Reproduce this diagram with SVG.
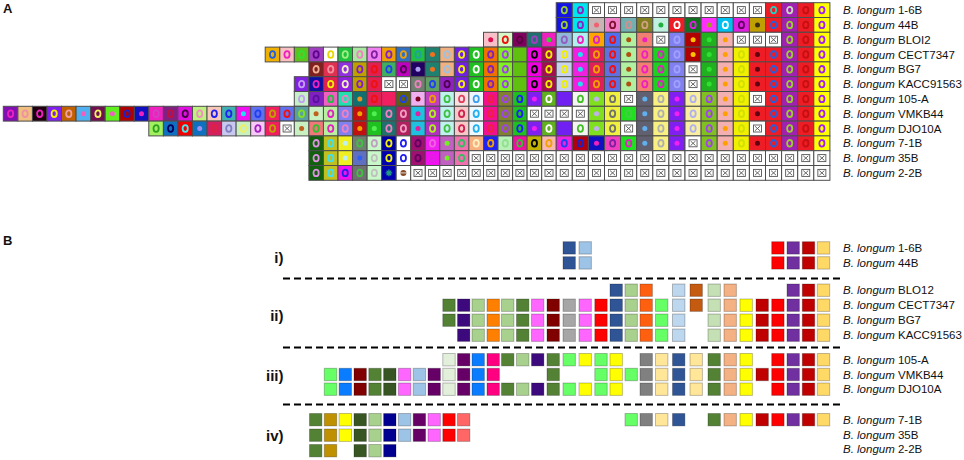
<svg xmlns="http://www.w3.org/2000/svg" width="964" height="460" viewBox="0 0 964 460">
<style>
rect.l{width:14.6px;height:14.8px;stroke:#4d4d4d;stroke-width:1px}
rect.r{width:16.1px;height:14.8px;stroke:#4d4d4d;stroke-width:1px}
rect.b{width:12.4px;height:12.4px;stroke:#000;stroke-opacity:.25;stroke-width:1px}
text{font-family:"Liberation Sans",Arial,Helvetica,sans-serif;fill:#111}
.lab{font-size:11.5px}
.it{font-style:italic}
.pl{font-size:13px;font-weight:bold}
.sl{font-size:15px;font-weight:bold;text-anchor:end}
.sep{stroke:#000;stroke-width:2;stroke-dasharray:7 4;fill:none}
</style>
<defs>
<ellipse id="o" cy="7.4" rx="2.6" ry="3.3" fill="none" stroke-width="1.8"/>
<circle id="d" cy="7.4" r="2.5"/>
<g id="xm"><rect x="-4" y="3.9" width="8" height="7" fill="#fff" stroke="#555" stroke-width=".9"/><path d="M-2.5 5.1L2.5 9.7M-2.5 9.7L2.5 5.1" stroke="#555" stroke-width=".9"/></g>
<g id="xl"><rect class="l" fill="#fff"/><use href="#xm" x="7.3"/></g>
<g id="xr"><rect class="r" fill="#fff"/><use href="#xm" x="8.05"/></g>
<g id="E"><rect class="r" x="765.5" fill="#ee1c24"/><use href="#o" x="773.6" stroke="#2060e0"/><rect class="r" x="781.6" fill="#a020b0"/><use href="#o" x="789.7" stroke="#9acd32"/><rect class="r" x="797.7" fill="#ee1c24"/><use href="#o" x="805.8" stroke="#c41010"/><rect class="r" x="813.8" fill="#ffff00"/><use href="#o" x="821.9" stroke="#a020f0"/></g>
<g id="Q1">
<rect class="l" x="454.4" fill="#7020e0"/><use href="#o" x="461.6" stroke="#f0f000"/>
<rect class="l" x="468.9" fill="#20c020"/><use href="#o" x="476.2" stroke="#ffffff"/>
<rect class="l" x="483.5" fill="#f07000"/><use href="#o" x="490.7" stroke="#8020c0"/>
<rect class="l" x="498" fill="#80f020"/><use href="#o" x="505.3" stroke="#a040f0"/>
<rect class="l" x="512.6" fill="#60c010"/>
<rect class="l" x="527.1" fill="#f000e0"/><use href="#o" x="534.4" stroke="#000"/>
<rect class="l" x="541.7" fill="#a01050"/><use href="#o" x="548.9" stroke="#f0f000"/>
<rect class="r" x="556.2" fill="#c8d0f0"/><use href="#o" x="564.3" stroke="#f0f000"/>
<rect class="r" x="572.3" fill="#f020e0"/><use href="#d" x="580.4" fill="#20e0f0"/>
<rect class="r" x="588.4" fill="#e0205a"/><use href="#o" x="596.5" stroke="#f0a000"/>
<rect class="r" x="604.5" fill="#6070e0"/><use href="#o" x="612.6" stroke="#f01010"/>
<rect class="r" x="620.6" fill="#b0f0a0"/><use href="#d" x="628.7" fill="#b05010"/>
<rect class="r" x="636.7" fill="#f08070"/><use href="#o" x="644.8" stroke="#f020c0"/>
<rect class="r" x="652.8" fill="#20d020"/><use href="#o" x="660.9" stroke="#e020c0"/>
<rect class="r" x="668.9" fill="#8080f0"/><use href="#o" x="677" stroke="#a0a0ff"/>
</g>
<g id="Q2">
<rect class="r" x="701.1" fill="#20b020"/><use href="#d" x="709.2" fill="#30e030"/>
<rect class="r" x="717.2" fill="#f4b0b0"/><use href="#d" x="725.3" fill="#ffa000"/>
<rect class="r" x="733.3" fill="#f0f000"/><use href="#o" x="741.4" stroke="#d0e000"/>
<rect class="r" x="749.4" fill="#ee1c24"/><use href="#d" x="757.5" fill="#600010"/>
</g>
<g id="P1"><rect class="r" x="588.4" fill="#80e020"/><use href="#d" x="596.5" fill="#c0b0f0"/><rect class="r" x="604.5" fill="#f0f040"/><use href="#o" x="612.6" stroke="#707070"/></g>
<g id="P2"><rect class="r" x="636.7" fill="#606070"/><use href="#d" x="644.8" fill="#60b0f0"/><rect class="r" x="652.8" fill="#f8f080"/><use href="#o" x="660.9" stroke="#b0b0b0"/><rect class="r" x="668.9" fill="#8020f0"/><use href="#d" x="677" fill="#f020f0"/></g>
<g id="P3"><rect class="r" x="701.1" fill="#80c020"/><use href="#o" x="709.2" stroke="#a040f0"/><rect class="r" x="717.2" fill="#f4b0b0"/><use href="#d" x="725.3" fill="#ffa000"/><rect class="r" x="733.3" fill="#f0f000"/><use href="#o" x="741.4" stroke="#d0e000"/></g>
<g id="P4"><rect class="l" x="527.1" fill="#8020f0"/><use href="#d" x="534.4" fill="#f020f0"/><rect class="l" x="541.7" fill="#60b020"/><use href="#o" x="548.9" stroke="#fff"/><rect class="r" x="556.2" fill="#7020f0"/><rect class="r" x="572.3" fill="#f4f4f4"/><use href="#o" x="580.4" stroke="#40c020"/></g>
<g id="V">
<rect class="l" x="323.4" fill="#b8f0a0"/><use href="#o" x="330.7" stroke="#e020c0"/>
<rect class="l" x="338" fill="#8080f0"/><use href="#o" x="345.2" stroke="#f080c0"/>
<rect class="l" x="352.5" fill="#c01010"/><use href="#d" x="359.8" fill="#f0a000"/>
<rect class="l" x="367.1" fill="#20c020"/><use href="#d" x="374.3" fill="#50f050"/>
<rect class="l" x="381.6" fill="#207070"/><use href="#o" x="388.9" stroke="#f080c0"/>
<rect class="l" x="396.2" fill="#b02060"/><use href="#o" x="403.4" stroke="#f0a0c0"/>
<rect class="l" x="410.7" fill="#20c0e0"/><use href="#d" x="418" fill="#e020a0"/>
<rect class="l" x="425.3" fill="#b030c0"/><use href="#o" x="432.5" stroke="#b0f020"/>
<rect class="l" x="439.8" fill="#c0f0f0"/><use href="#o" x="447.1" stroke="#40c040"/>
<rect class="l" x="454.4" fill="#f8c8c8"/><use href="#o" x="461.6" stroke="#d02050"/>
<rect class="l" x="468.9" fill="#f0f8ff"/><use href="#o" x="476.2" stroke="#20b0f0"/>
<rect class="l" x="483.5" fill="#f01090"/><use href="#o" x="490.7" stroke="#f02040"/>
<rect class="l" x="498" fill="#808030"/><use href="#o" x="505.3" stroke="#a040f0"/>
<rect class="l" x="512.6" fill="#20c020"/><use href="#o" x="519.8" stroke="#2020f0"/>
</g>
<g id="T3"><rect class="l" x="308.9" fill="#106010"/><use href="#o" x="316.1" stroke="#e090e0"/><rect class="l" x="323.4" fill="#c0c020"/><use href="#o" x="330.7" stroke="#40e0f0"/></g>
<g id="XL"><use href="#xl" x="468.9"/><use href="#xl" x="483.5"/><use href="#xl" x="498"/><use href="#xl" x="512.6"/><use href="#xl" x="527.1"/><use href="#xl" x="541.7"/></g>
<g id="XR"><use href="#xr" x="556.2"/><use href="#xr" x="572.3"/><use href="#xr" x="588.4"/><use href="#xr" x="604.5"/><use href="#xr" x="620.6"/><use href="#xr" x="636.7"/><use href="#xr" x="652.8"/><use href="#xr" x="668.9"/><use href="#xr" x="685"/><use href="#xr" x="701.1"/><use href="#xr" x="717.2"/><use href="#xr" x="733.3"/><use href="#xr" x="749.4"/><use href="#xr" x="765.5"/><use href="#xr" x="781.6"/><use href="#xr" x="797.7"/><use href="#xr" x="813.8"/></g>
<g id="Bend"><rect class="b" x="771.7" fill="#ff0000"/><rect class="b" x="787" fill="#7030a0"/><rect class="b" x="802.3" fill="#c00000"/><rect class="b" x="817.3" fill="#ffd966"/></g>
<g id="Bii"><rect class="b" x="457.5" fill="#3c0a7c"/><rect class="b" x="472" fill="#a9d18e"/><rect class="b" x="487" fill="#ff8000"/><rect class="b" x="501.5" fill="#a9d18e"/><rect class="b" x="516.5" fill="#548235"/><rect class="b" x="531.5" fill="#ff66ff"/><rect class="b" x="547" fill="#800000"/><rect class="b" x="563" fill="#a6a6a6"/><rect class="b" x="579" fill="#ff66ff"/><rect class="b" x="594.8" fill="#ff0000"/><rect class="b" x="610" fill="#2f5597"/><rect class="b" x="625" fill="#a9d18e"/><rect class="b" x="640" fill="#ff6010"/><rect class="b" x="655.5" fill="#66ff66"/><rect class="b" x="672.5" fill="#bdd7ee"/><rect class="b" x="708" fill="#c5e0b4"/><rect class="b" x="724" fill="#f4b183"/><rect class="b" x="740" fill="#ffff00"/><rect class="b" x="756" fill="#c00000"/><use href="#Bend"/></g>
<g id="L18"><rect class="b" x="324.3" fill="#66ff66"/><rect class="b" x="339.1" fill="#0a7cff"/><rect class="b" x="354" fill="#800000"/><rect class="b" x="368.8" fill="#548235"/><rect class="b" x="383.6" fill="#375623"/><rect class="b" x="398.4" fill="#ff66ff"/><rect class="b" x="413.2" fill="#9dc3e6"/><rect class="b" x="428" fill="#660066"/></g>
<g id="M"><rect class="b" x="442.8" fill="#e2efda"/><rect class="b" x="457.5" fill="#660066"/><rect class="b" x="472" fill="#0a7cff"/><rect class="b" x="487" fill="#ff0080"/></g>
<g id="N"><rect class="b" x="501.5" fill="#548235"/><rect class="b" x="516.5" fill="#a9d18e"/><rect class="b" x="531.5" fill="#3c0a7c"/><rect class="b" x="547" fill="#548235"/><rect class="b" x="563" fill="#66ff66"/><rect class="b" x="579" fill="#ffff00"/><rect class="b" x="594.8" fill="#66ff66"/><rect class="b" x="610" fill="#ffff00"/></g>
<g id="R"><rect class="b" x="640" fill="#808080"/><rect class="b" x="655.5" fill="#ffe699"/><rect class="b" x="672.5" fill="#2f5597"/><rect class="b" x="690" fill="#ffe699"/><rect class="b" x="708" fill="#548235"/><rect class="b" x="724" fill="#f4b183"/><rect class="b" x="740" fill="#ffff00"/></g>
<g id="IV"><rect class="b" x="309.5" fill="#548235"/><rect class="b" x="324.3" fill="#bf9000"/><rect class="b" x="339.1" fill="#ffff00"/><rect class="b" x="354" fill="#375623"/><rect class="b" x="368.8" fill="#a9d18e"/><rect class="b" x="383.6" fill="#000090"/><rect class="b" x="398.4" fill="#9dc3e6"/><rect class="b" x="413.2" fill="#660066"/><rect class="b" x="428" fill="#ff66ff"/><rect class="b" x="442.8" fill="#ff0000"/><rect class="b" x="457.5" fill="#ff6666"/></g>
</defs>
<rect width="964" height="460" fill="#fff"/>
<text class="pl" x="3" y="13.3">A</text>
<g id="panelA">
<g id="a-1-6B" transform="translate(0,2.7)">
<rect class="r" x="556.2" fill="#1414e6"/><use href="#o" x="564.3" stroke="#9acd32"/>
<rect class="r" x="572.3" fill="#00e5ee"/><use href="#o" x="580.4" stroke="#9020c0"/>
<use href="#xr" x="588.4"/><use href="#xr" x="604.5"/><use href="#xr" x="620.6"/><use href="#xr" x="636.7"/><use href="#xr" x="652.8"/><use href="#xr" x="668.9"/><use href="#xr" x="685"/><use href="#xr" x="701.1"/><use href="#xr" x="717.2"/><use href="#xr" x="733.3"/><use href="#xr" x="749.4"/>
<rect class="r" x="765.5" fill="#ee1c24"/><use href="#o" x="773.6" stroke="#20d0c0"/>
<rect class="r" x="781.6" fill="#a020b0"/><use href="#o" x="789.7" stroke="#c8d8c0"/>
<rect class="r" x="797.7" fill="#ee1c24"/><use href="#o" x="805.8" stroke="#c41010"/>
<rect class="r" x="813.8" fill="#ffff00"/><use href="#o" x="821.9" stroke="#a020f0"/>
</g>
<g id="a-44B" transform="translate(0,17.5)">
<rect class="r" x="556.2" fill="#1414e6"/><use href="#o" x="564.3" stroke="#9acd32"/>
<rect class="r" x="572.3" fill="#00e5ee"/><use href="#o" x="580.4" stroke="#9020c0"/>
<rect class="r" x="588.4" fill="#c8b4b4"/><use href="#d" x="596.5" fill="#f06070"/>
<rect class="r" x="604.5" fill="#f080c8"/><use href="#o" x="612.6" stroke="#801030"/>
<rect class="r" x="620.6" fill="#70b0b0"/><use href="#o" x="628.7" stroke="#d09090"/>
<rect class="r" x="636.7" fill="#808020"/><use href="#o" x="644.8" stroke="#d0a080"/>
<rect class="r" x="652.8" fill="#c0f0e0"/><use href="#d" x="660.9" fill="#20b040"/>
<rect class="r" x="668.9" fill="#ee1c24"/><use href="#o" x="677" stroke="#fff"/>
<rect class="r" x="685" fill="#107020"/><use href="#o" x="693.1" stroke="#e020e0"/>
<rect class="r" x="701.1" fill="#ff30ff"/><use href="#d" x="709.2" fill="#a0a020"/>
<rect class="r" x="717.2" fill="#00c0f0"/><use href="#o" x="725.3" stroke="#fff"/>
<rect class="r" x="733.3" fill="#e020e0"/><use href="#o" x="741.4" stroke="#600060"/>
<rect class="r" x="749.4" fill="#c0a000"/><use href="#d" x="757.5" fill="#403010"/>
<use href="#E"/>
</g>
<g id="a-BLOI2" transform="translate(0,32.3)">
<rect class="l" x="483.5" fill="#f8c0c8"/><use href="#d" x="490.7" fill="#e01050"/>
<rect class="l" x="498" fill="#d8f8c8"/><use href="#o" x="505.3" stroke="#f01010"/>
<rect class="l" x="512.6" fill="#800060"/><use href="#o" x="519.8" stroke="#5a0040"/>
<rect class="l" x="527.1" fill="#207070"/><use href="#o" x="534.4" stroke="#a040c0"/>
<rect class="l" x="541.7" fill="#f020c0"/><use href="#d" x="548.9" fill="#30d030"/>
<rect class="r" x="556.2" fill="#90b8d8"/><use href="#o" x="564.3" stroke="#9060c0"/>
<rect class="r" x="572.3" fill="#b0f0f0"/><use href="#o" x="580.4" stroke="#f020c0"/>
<rect class="r" x="588.4" fill="#ffa500"/><use href="#o" x="596.5" stroke="#e020c0"/>
<rect class="r" x="604.5" fill="#5070f0"/><use href="#o" x="612.6" stroke="#f01010"/>
<rect class="r" x="620.6" fill="#b0f0a0"/><use href="#d" x="628.7" fill="#b05010"/>
<rect class="r" x="636.7" fill="#f08070"/><use href="#d" x="644.8" fill="#f020c0"/>
<use href="#xr" x="652.8"/>
<rect class="r" x="668.9" fill="#8080f0"/><use href="#o" x="677" stroke="#a0a0ff"/>
<rect class="r" x="685" fill="#b00000"/><use href="#d" x="693.1" fill="#ffc000"/>
<rect class="r" x="701.1" fill="#20b020"/><use href="#d" x="709.2" fill="#30e030"/>
<rect class="r" x="717.2" fill="#f4b0b0"/><use href="#d" x="725.3" fill="#ffa000"/>
<use href="#xr" x="733.3"/><use href="#xr" x="749.4"/><use href="#xr" x="765.5"/>
<rect class="r" x="781.6" fill="#a020b0"/><use href="#o" x="789.7" stroke="#9acd32"/>
<rect class="r" x="797.7" fill="#ee1c24"/><use href="#o" x="805.8" stroke="#c41010"/>
<rect class="r" x="813.8" fill="#ffff00"/><use href="#o" x="821.9" stroke="#a020f0"/>
</g>
<g id="a-CECT7347" transform="translate(0,47.1)">
<rect class="l" x="265.2" fill="#f0b000"/><use href="#o" x="272.5" stroke="#2060e0"/>
<rect class="l" x="279.8" fill="#f8c0c0"/><use href="#o" x="287" stroke="#f020c0"/>
<rect class="l" x="294.3" fill="#60c020"/><use href="#o" x="301.6" stroke="#30e030"/>
<rect class="l" x="308.9" fill="#a040c0"/><use href="#o" x="316.1" stroke="#600090"/>
<rect class="l" x="323.4" fill="#ffffff"/><use href="#o" x="330.7" stroke="#e8d800"/>
<rect class="l" x="338" fill="#20c040"/><use href="#o" x="345.2" stroke="#a0f080"/>
<rect class="l" x="352.5" fill="#a8e8a0"/><use href="#o" x="359.8" stroke="#f080c0"/>
<rect class="l" x="367.1" fill="#f080f0"/><use href="#o" x="374.3" stroke="#8020a0"/>
<rect class="l" x="381.6" fill="#f0a000"/><use href="#o" x="388.9" stroke="#8020c0"/>
<rect class="l" x="396.2" fill="#3070c0"/><use href="#o" x="403.4" stroke="#f0a000"/>
<rect class="l" x="410.7" fill="#20c040"/><use href="#o" x="418" stroke="#20a0a0"/>
<rect class="l" x="425.3" fill="#208070"/><use href="#d" x="432.5" fill="#f07020"/>
<rect class="l" x="439.8" fill="#f0b080"/><use href="#o" x="447.1" stroke="#a0c0e0"/>
<use href="#Q1"/>
<rect class="r" x="685" fill="#b00000"/><use href="#d" x="693.1" fill="#ffc000"/>
<use href="#Q2"/><use href="#E"/>
</g>
<g id="a-BG7" transform="translate(0,61.9)">
<rect class="l" x="308.9" fill="#802020"/><use href="#o" x="316.1" stroke="#f0b090"/>
<rect class="l" x="323.4" fill="#e03050"/><use href="#o" x="330.7" stroke="#f090a0"/>
<rect class="l" x="338" fill="#9030e0"/><use href="#o" x="345.2" stroke="#f0f0c0"/>
<rect class="l" x="352.5" fill="#c0a000"/><use href="#o" x="359.8" stroke="#8020c0"/>
<rect class="l" x="367.1" fill="#e02050"/><use href="#o" x="374.3" stroke="#f01010"/>
<rect class="l" x="381.6" fill="#40b060"/><use href="#o" x="388.9" stroke="#2040f0"/>
<rect class="l" x="396.2" fill="#c000c0"/><use href="#o" x="403.4" stroke="#500050"/>
<rect class="l" x="410.7" fill="#200060"/><use href="#d" x="418" fill="#b0a0f0"/>
<rect class="l" x="425.3" fill="#208070"/><use href="#d" x="432.5" fill="#f07020"/>
<rect class="l" x="439.8" fill="#f0b080"/><use href="#o" x="447.1" stroke="#a0c0e0"/>
<use href="#Q1"/><use href="#xr" x="685"/><use href="#Q2"/><use href="#E"/>
</g>
<g id="a-KACC91563" transform="translate(0,76.7)">
<rect class="l" x="294.3" fill="#8020e0"/><use href="#o" x="301.6" stroke="#c0a0f0"/>
<rect class="l" x="308.9" fill="#1010a0"/><use href="#o" x="316.1" stroke="#f020c0"/>
<rect class="l" x="323.4" fill="#e02050"/><use href="#o" x="330.7" stroke="#f0f000"/>
<rect class="l" x="338" fill="#9020e0"/><use href="#o" x="345.2" stroke="#f0f0c0"/>
<rect class="l" x="352.5" fill="#c0a000"/><use href="#o" x="359.8" stroke="#8020c0"/>
<rect class="l" x="367.1" fill="#e02050"/><use href="#o" x="374.3" stroke="#f01010"/>
<use href="#xl" x="381.6"/><use href="#xl" x="396.2"/>
<rect class="l" x="410.7" fill="#708070"/><use href="#o" x="418" stroke="#f080c0"/>
<rect class="l" x="425.3" fill="#60a060"/><use href="#o" x="432.5" stroke="#2040f0"/>
<rect class="l" x="439.8" fill="#9020c0"/><use href="#o" x="447.1" stroke="#500050"/>
<use href="#Q1"/><use href="#xr" x="685"/><use href="#Q2"/><use href="#E"/>
</g>
<g id="a-105-A" transform="translate(0,91.5)">
<rect class="l" x="294.3" fill="#c8f0c8"/><use href="#o" x="301.6" stroke="#c0a0f0"/>
<rect class="l" x="308.9" fill="#8020c0"/><use href="#o" x="316.1" stroke="#5a10a0"/>
<rect class="l" x="323.4" fill="#f060c0"/><use href="#o" x="330.7" stroke="#20c040"/>
<rect class="l" x="338" fill="#20e0b0"/><use href="#o" x="345.2" stroke="#f080c0"/>
<rect class="l" x="352.5" fill="#107070"/><use href="#d" x="359.8" fill="#f09020"/>
<rect class="l" x="367.1" fill="#e02050"/><use href="#o" x="374.3" stroke="#f01010"/>
<rect class="l" x="381.6" fill="#f02060"/>
<rect class="l" x="396.2" fill="#606010"/><use href="#o" x="403.4" stroke="#2040f0"/>
<rect class="l" x="410.7" fill="#f0b0f0"/><use href="#d" x="418" fill="#800020"/>
<rect class="l" x="425.3" fill="#c040c0"/><use href="#o" x="432.5" stroke="#f0a000"/>
<rect class="l" x="439.8" fill="#c0f0f0"/><use href="#o" x="447.1" stroke="#40c040"/>
<rect class="l" x="454.4" fill="#f8e0e0"/><use href="#o" x="461.6" stroke="#e04060"/>
<rect class="l" x="468.9" fill="#f0f4ff"/><use href="#o" x="476.2" stroke="#40a0f0"/>
<rect class="l" x="483.5" fill="#f0108a"/><use href="#o" x="490.7" stroke="#f02040"/>
<rect class="l" x="498" fill="#808030"/><use href="#o" x="505.3" stroke="#a040f0"/>
<rect class="l" x="512.6" fill="#20c020"/><use href="#o" x="519.8" stroke="#2020f0"/>
<use href="#P4"/><use href="#P1"/><use href="#xr" x="620.6"/><use href="#P2"/>
<rect class="r" x="685" fill="#f8f0a0"/><use href="#o" x="693.1" stroke="#b0b0f0"/>
<use href="#P3"/><use href="#xr" x="749.4"/><use href="#E"/>
</g>
<g id="a-VMKB44" transform="translate(0,106.3)">
<rect class="l" x="3.3" fill="#8010b0"/><use href="#o" x="10.6" stroke="#f020c0"/>
<rect class="l" x="17.9" fill="#f0c080"/><use href="#o" x="25.1" stroke="#f090a0"/>
<rect class="l" x="32.4" fill="#200010"/><use href="#o" x="39.7" stroke="#f020c0"/>
<rect class="l" x="47" fill="#8020f0"/><use href="#o" x="54.2" stroke="#f0f000"/>
<rect class="l" x="61.5" fill="#c06000"/><use href="#o" x="68.8" stroke="#f0a0a0"/>
<rect class="l" x="76.1" fill="#50b0f0"/><use href="#d" x="83.3" fill="#f060c0"/>
<rect class="l" x="90.6" fill="#701050"/><use href="#o" x="97.9" stroke="#f0f060"/>
<rect class="l" x="105.2" fill="#60f020"/><use href="#d" x="112.4" fill="#f060c0"/>
<rect class="l" x="119.7" fill="#b00000"/><use href="#o" x="127" stroke="#2020c0"/>
<rect class="l" x="134.3" fill="#1010c0"/><use href="#d" x="141.5" fill="#f020c0"/>
<rect class="l" x="148.8" fill="#f020c0"/><use href="#o" x="156.1" stroke="#d040c0"/>
<rect class="l" x="163.4" fill="#802080"/><use href="#o" x="170.6" stroke="#c01040"/>
<rect class="l" x="177.9" fill="#e010e0"/><use href="#o" x="185.2" stroke="#400040"/>
<rect class="l" x="192.5" fill="#c0f080"/><use href="#o" x="199.7" stroke="#f090c0"/>
<rect class="l" x="207" fill="#f8c8b8"/><use href="#o" x="214.3" stroke="#2020f0"/>
<rect class="l" x="221.6" fill="#40b0b0"/><use href="#o" x="228.8" stroke="#2020f0"/>
<rect class="l" x="236.1" fill="#f010f0"/><use href="#d" x="243.4" fill="#20e0f0"/>
<rect class="l" x="250.7" fill="#6070f0"/><use href="#o" x="257.9" stroke="#2040f0"/>
<rect class="l" x="265.2" fill="#f02060"/><use href="#o" x="272.5" stroke="#c0a000"/>
<rect class="l" x="279.8" fill="#6070f0"/><use href="#o" x="287" stroke="#f01010"/>
<rect class="l" x="294.3" fill="#5aa0a0"/><use href="#o" x="301.6" stroke="#80e020"/>
<rect class="l" x="308.9" fill="#c8f0c0"/><use href="#d" x="316.1" fill="#c06020"/>
<use href="#V"/>
<use href="#xl" x="527.1"/><use href="#xl" x="541.7"/><use href="#xr" x="556.2"/><use href="#xr" x="572.3"/>
<use href="#P1"/>
<rect class="r" x="620.6" fill="#20e020"/><use href="#o" x="628.7" stroke="#40d040"/>
<use href="#P2"/>
<rect class="r" x="685" fill="#f8f0a0"/><use href="#o" x="693.1" stroke="#b0b0f0"/>
<use href="#P3"/>
<rect class="r" x="749.4" fill="#ee1c24"/><use href="#d" x="757.5" fill="#600010"/>
<use href="#E"/>
</g>
<g id="a-DJO10A" transform="translate(0,121.1)">
<rect class="l" x="148.8" fill="#a0f060"/><use href="#o" x="156.1" stroke="#30a020"/>
<rect class="l" x="163.4" fill="#1070c0"/><use href="#o" x="170.6" stroke="#000060"/>
<rect class="l" x="177.9" fill="#f00000"/><use href="#o" x="185.2" stroke="#40f0f0"/>
<rect class="l" x="192.5" fill="#1070c0"/><use href="#d" x="199.7" fill="#a090f0"/>
<rect class="l" x="207" fill="#d02060"/><use href="#o" x="214.3" stroke="#e02040"/>
<rect class="l" x="221.6" fill="#c8c8f0"/><use href="#o" x="228.8" stroke="#8080c0"/>
<rect class="l" x="236.1" fill="#c8f0c0"/><use href="#o" x="243.4" stroke="#f0f060"/>
<rect class="l" x="250.7" fill="#f8c8f8"/><use href="#o" x="257.9" stroke="#a020c0"/>
<rect class="l" x="265.2" fill="#f02060"/><use href="#o" x="272.5" stroke="#c0a000"/>
<use href="#xl" x="279.8"/>
<rect class="l" x="294.3" fill="#c8f0c0"/><use href="#d" x="301.6" fill="#c06020"/>
<rect class="l" x="308.9" fill="#f07878"/><use href="#o" x="316.1" stroke="#30c030"/>
<use href="#V"/><use href="#P4"/><use href="#P1"/><use href="#xr" x="620.6"/><use href="#P2"/>
<rect class="r" x="685" fill="#f8f0a0"/><use href="#o" x="693.1" stroke="#b0b0f0"/>
<use href="#P3"/><use href="#xr" x="749.4"/><use href="#E"/>
</g>
<g id="a-7-1B" transform="translate(0,135.9)">
<use href="#T3"/>
<rect class="l" x="338" fill="#f0f020"/><use href="#d" x="345.2" fill="#c0f0f0"/>
<rect class="l" x="352.5" fill="#708070"/><use href="#o" x="359.8" stroke="#40c040"/>
<rect class="l" x="367.1" fill="#c8f8c8"/><use href="#o" x="374.3" stroke="#c0a0c0"/>
<rect class="l" x="381.6" fill="#0000a0"/><use href="#o" x="388.9" stroke="#f0f000"/>
<rect class="l" x="396.2" fill="#ffffff"/><use href="#o" x="403.4" stroke="#2020f0"/>
<rect class="l" x="410.7" fill="#a01070"/><use href="#o" x="418" stroke="#600060"/>
<rect class="l" x="425.3" fill="#f020f0"/><use href="#o" x="432.5" stroke="#f060e0"/>
<rect class="l" x="439.8" fill="#c060c0"/><use href="#d" x="447.1" fill="#70f020"/>
<rect class="l" x="454.4" fill="#f070b0"/><use href="#o" x="461.6" stroke="#30c060"/>
<rect class="l" x="468.9" fill="#f8b080"/><use href="#o" x="476.2" stroke="#fff0c0"/>
<rect class="l" x="483.5" fill="#2020f0"/><use href="#o" x="490.7" stroke="#f0a000"/>
<rect class="l" x="498" fill="#b8f0b8"/><use href="#o" x="505.3" stroke="#90e090"/>
<rect class="l" x="512.6" fill="#f010a0"/><use href="#o" x="519.8" stroke="#30c030"/>
<rect class="l" x="527.1" fill="#c0b000"/><use href="#o" x="534.4" stroke="#000"/>
<rect class="l" x="541.7" fill="#f8b8b0"/><use href="#o" x="548.9" stroke="#f0a000"/>
<rect class="r" x="556.2" fill="#f020e0"/><use href="#o" x="564.3" stroke="#2040f0"/>
<rect class="r" x="572.3" fill="#b00010"/><use href="#o" x="580.4" stroke="#2020c0"/>
<rect class="r" x="588.4" fill="#1010c0"/><use href="#d" x="596.5" fill="#f020c0"/>
<rect class="r" x="604.5" fill="#f040c0"/><use href="#o" x="612.6" stroke="#8020a0"/>
<rect class="r" x="620.6" fill="#20e020"/><use href="#o" x="628.7" stroke="#e020c0"/>
<use href="#P2"/><use href="#xr" x="685"/><use href="#P3"/>
<rect class="r" x="749.4" fill="#ee1c24"/><use href="#d" x="757.5" fill="#600010"/>
<use href="#E"/>
</g>
<g id="a-35B" transform="translate(0,150.7)">
<use href="#T3"/>
<rect class="l" x="338" fill="#f0f020"/><use href="#d" x="345.2" fill="#c0f0f0"/>
<rect class="l" x="352.5" fill="#6070c0"/><use href="#d" x="359.8" fill="#3060f0"/>
<rect class="l" x="367.1" fill="#c8f8c8"/><use href="#o" x="374.3" stroke="#c0c0c0"/>
<rect class="l" x="381.6" fill="#0000b0"/><use href="#o" x="388.9" stroke="#f0f000"/>
<rect class="l" x="396.2" fill="#ffffff"/><use href="#o" x="403.4" stroke="#2020f0"/>
<rect class="l" x="410.7" fill="#a01070"/><use href="#o" x="418" stroke="#600060"/>
<rect class="l" x="425.3" fill="#f010f0"/><use href="#o" x="432.5" stroke="#e020e0"/>
<rect class="l" x="439.8" fill="#c060c0"/><use href="#d" x="447.1" fill="#70f020"/>
<rect class="l" x="454.4" fill="#f070b0"/><use href="#o" x="461.6" stroke="#30c060"/>
<use href="#XL"/><use href="#XR"/>
</g>
<g id="a-2-2B" transform="translate(0,165.5)">
<use href="#T3"/>
<rect class="l" x="338" fill="#f010f0"/><use href="#o" x="345.2" stroke="#2020e0"/>
<rect class="l" x="352.5" fill="#707070"/><use href="#o" x="359.8" stroke="#40c040"/>
<rect class="l" x="367.1" fill="#c8f8c8"/><use href="#o" x="374.3" stroke="#c0c0c0"/>
<rect class="l" x="381.6" fill="#0000b0"/><path d="M385.6 7.4h6.6M388.9 4.1v6.6M386.6 5.1l4.6 4.6M386.6 9.7l4.6-4.6" stroke="#20a080" stroke-width="1.3"/>
<rect class="l" x="396.2" fill="#ffffff"/><circle cx="403.4" cy="7.4" r="3" fill="#8a4a28"/><path d="M400.4 7.4h6" stroke="#fff" stroke-width=".8"/>
<use href="#xl" x="410.7"/><use href="#xl" x="425.3"/><use href="#xl" x="439.8"/><use href="#xl" x="454.4"/>
<use href="#XL"/><use href="#XR"/>
</g>
</g>
<g id="labelsA" class="lab">
<text class="lab" x="843" y="14.1"><tspan class="it">B. longum</tspan> 1-6B</text>
<text class="lab" x="843" y="28.9"><tspan class="it">B. longum</tspan> 44B</text>
<text class="lab" x="843" y="43.7"><tspan class="it">B. longum</tspan> BLOI2</text>
<text class="lab" x="843" y="58.5"><tspan class="it">B. longum</tspan> CECT7347</text>
<text class="lab" x="843" y="73.3"><tspan class="it">B. longum</tspan> BG7</text>
<text class="lab" x="843" y="88.1"><tspan class="it">B. longum</tspan> KACC91563</text>
<text class="lab" x="843" y="102.9"><tspan class="it">B. longum</tspan> 105-A</text>
<text class="lab" x="843" y="117.7"><tspan class="it">B. longum</tspan> VMKB44</text>
<text class="lab" x="843" y="132.5"><tspan class="it">B. longum</tspan> DJO10A</text>
<text class="lab" x="843" y="147.3"><tspan class="it">B. longum</tspan> 7-1B</text>
<text class="lab" x="843" y="162.1"><tspan class="it">B. longum</tspan> 35B</text>
<text class="lab" x="843" y="176.9"><tspan class="it">B. longum</tspan> 2-2B</text>
</g>
<text class="pl" x="3" y="245">B</text>
<g id="sections">
<text class="sl" x="283.5" y="262.5">i)</text>
<text class="sl" x="283.5" y="321">ii)</text>
<text class="sl" x="283.5" y="381">iii)</text>
<text class="sl" x="283.5" y="441">iv)</text>
<path class="sep" d="M283 278.5H840M283 347.5H840M283 404.5H840"/>
</g>
<g id="panelB">
<g id="b-1-6B" transform="translate(0,241.7)"><rect class="b" x="563" fill="#2f5597"/><rect class="b" x="579" fill="#9dc3e6"/><use href="#Bend"/></g>
<g id="b-44B" transform="translate(0,256.7)"><rect class="b" x="563" fill="#2f5597"/><rect class="b" x="579" fill="#9dc3e6"/><use href="#Bend"/></g>
<g id="b-BLO12" transform="translate(0,284)"><rect class="b" x="610" fill="#2f5597"/><rect class="b" x="625" fill="#a9d18e"/><rect class="b" x="640" fill="#ff6010"/><rect class="b" x="672.5" fill="#bdd7ee"/><rect class="b" x="690" fill="#c55a11"/><rect class="b" x="708" fill="#c5e0b4"/><rect class="b" x="724" fill="#f4b183"/><rect class="b" x="787" fill="#7030a0"/><rect class="b" x="802.3" fill="#c00000"/><rect class="b" x="817.3" fill="#ffd966"/></g>
<g id="b-CECT7347" transform="translate(0,299)"><rect class="b" x="442.8" fill="#548235"/><use href="#Bii"/><rect class="b" x="690" fill="#c55a11"/></g>
<g id="b-BG7" transform="translate(0,314)"><rect class="b" x="442.8" fill="#548235"/><use href="#Bii"/></g>
<g id="b-KACC91563" transform="translate(0,329)"><use href="#Bii"/></g>
<g id="b-105-A" transform="translate(0,353.5)"><use href="#M"/><use href="#N"/><use href="#R"/><use href="#Bend"/></g>
<g id="b-VMKB44" transform="translate(0,368.3)"><use href="#L18"/><use href="#M"/><rect class="b" x="547" fill="#548235"/><rect class="b" x="594.8" fill="#66ff66"/><rect class="b" x="610" fill="#ffff00"/><rect class="b" x="625" fill="#66ff66"/><use href="#R"/><rect class="b" x="756" fill="#c00000"/><use href="#Bend"/></g>
<g id="b-DJO10A" transform="translate(0,383)"><use href="#L18"/><use href="#M"/><use href="#N"/><use href="#R"/><use href="#Bend"/></g>
<g id="b-7-1B" transform="translate(0,413.5)"><use href="#IV"/><rect class="b" x="625" fill="#66ff66"/><rect class="b" x="640" fill="#808080"/><rect class="b" x="655.5" fill="#ffe699"/><rect class="b" x="672.5" fill="#2f5597"/><rect class="b" x="708" fill="#548235"/><rect class="b" x="724" fill="#f4b183"/><rect class="b" x="740" fill="#ffff00"/><rect class="b" x="756" fill="#c00000"/><use href="#Bend"/></g>
<g id="b-35B" transform="translate(0,429)"><use href="#IV"/></g>
<g id="b-2-2B" transform="translate(0,444.5)"><rect class="b" x="309.5" fill="#548235"/><rect class="b" x="324.3" fill="#bf9000"/><rect class="b" x="354" fill="#375623"/><rect class="b" x="368.8" fill="#a9d18e"/><rect class="b" x="383.6" fill="#000090"/></g>
</g>
<g id="labelsB">
<text class="lab" x="843" y="252"><tspan class="it">B. longum</tspan> 1-6B</text>
<text class="lab" x="843" y="267"><tspan class="it">B. longum</tspan> 44B</text>
<text class="lab" x="843" y="294.3"><tspan class="it">B. longum</tspan> BLO12</text>
<text class="lab" x="843" y="309.3"><tspan class="it">B. longum</tspan> CECT7347</text>
<text class="lab" x="843" y="324.3"><tspan class="it">B. longum</tspan> BG7</text>
<text class="lab" x="843" y="339.3"><tspan class="it">B. longum</tspan> KACC91563</text>
<text class="lab" x="843" y="363.8"><tspan class="it">B. longum</tspan> 105-A</text>
<text class="lab" x="843" y="378.6"><tspan class="it">B. longum</tspan> VMKB44</text>
<text class="lab" x="843" y="393.3"><tspan class="it">B. longum</tspan> DJO10A</text>
<text class="lab" x="843" y="423.5"><tspan class="it">B. longum</tspan> 7-1B</text>
<text class="lab" x="843" y="438.5"><tspan class="it">B. longum</tspan> 35B</text>
<text class="lab" x="843" y="453"><tspan class="it">B. longum</tspan> 2-2B</text>
</g>
</svg>
